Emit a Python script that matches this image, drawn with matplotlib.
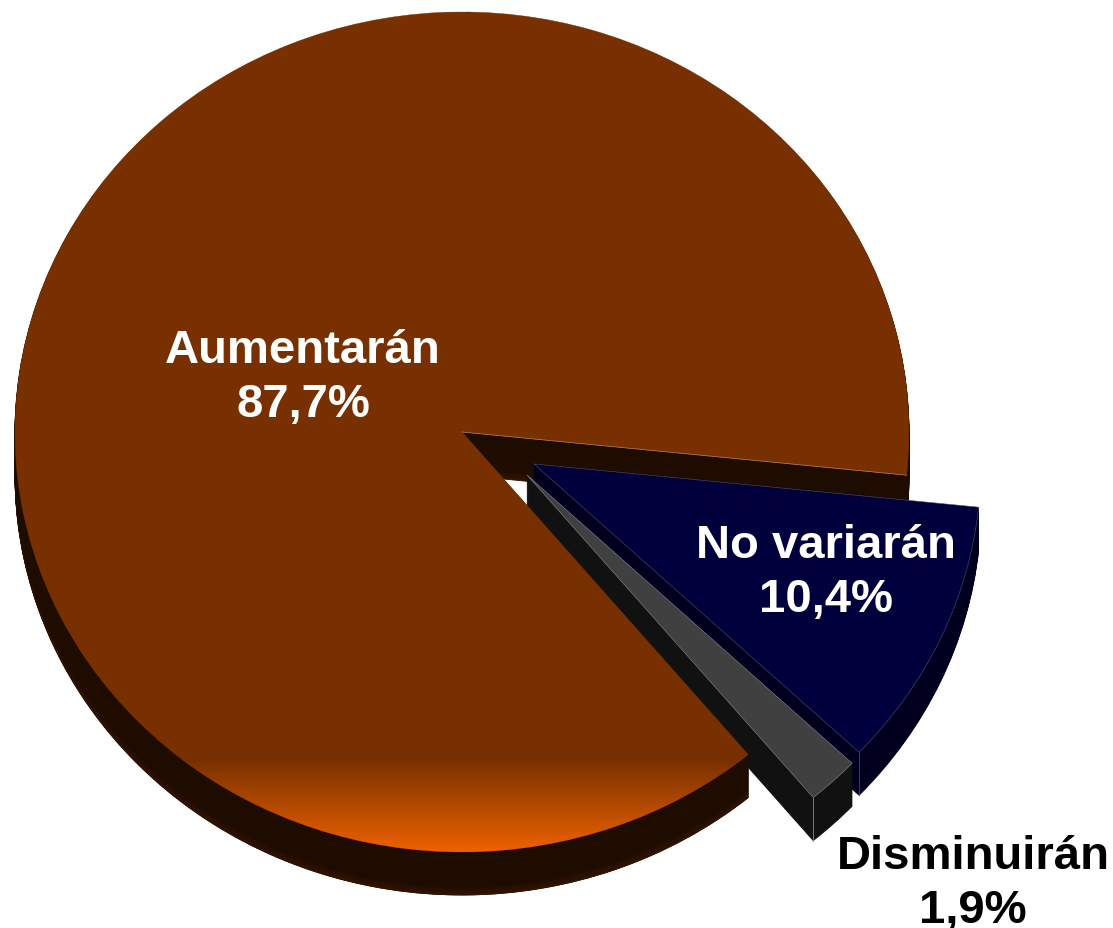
import numpy as np
import matplotlib
matplotlib.use("Agg")
import matplotlib.pyplot as plt
from matplotlib.patches import Wedge
from matplotlib.colors import to_rgb

# values, in drawing order (counterclockwise)
categories = ["Aumentarán", "Disminuirán", "No variarán"]
values = [87.7, 1.9, 10.4]

W, H = 1113, 929
cx, cy = 462, 433  # pie centre, pixels
rx, ry = 447, 420
depth = 43
start = -5.9

plt.rcParams["font.family"] = ["Liberation Sans", "DejaVu Sans"]

fig = plt.figure(figsize=(W / 100, H / 100), dpi=100)
ax = fig.add_axes([0, 0, 1, 1])
ax.set_xlim(-cx / rx, (W - cx) / rx)
ax.set_ylim((cy - H) / ry, cy / ry)
ax.axis("off")


def shifted(dx, dy):
    # pixel offset -> data offset
    return (dx / rx, -dy / ry)


# angles from the values
angles = {}
a = start
for name, v in zip(categories, values):
    angles[name] = (a, a + v * 3.6)
    a += v * 3.6

explode = {"Aumentarán": (0, 0), "Disminuirán": (65, 43), "No variarán": (72, 32)}


def wall(name, color, t1=None, t2=None, z=1, fade=None):
    a1, a2 = angles[name]
    if t1 is not None:
        a1, a2 = t1, t2
    ox, oy = explode[name]
    for s in range(depth, 0, -1):
        c = color
        if fade is not None and s > depth - 9:
            k = (s - (depth - 9)) / 9
            c = tuple(np.array(to_rgb(color)) * (1 - k) + np.array(to_rgb(fade)) * k)
        ax.add_patch(Wedge(shifted(ox, oy + s), 1, a1, a2, fc=c, ec=c, lw=0.6, zorder=z))


def corner_line(name, theta, color, z):
    ox, oy = explode[name]
    x0, y0 = shifted(ox, oy)
    x = x0 + np.cos(np.radians(theta))
    y = y0 + np.sin(np.radians(theta))
    ax.plot([x, x], [y, y - depth / ry], color=color, lw=0.6, zorder=z)


# main wedge, back walls
wall("Aumentarán", "#1e0c00", z=1, fade="#321400")

# blue wedge
wall("No variarán", "#00001e", z=2)
ax.add_patch(Wedge(shifted(*explode["No variarán"]), 1, *angles["No variarán"],
                   fc="#00003c", ec="#50506e", lw=0.4, zorder=3))
corner_line("No variarán", angles["No variarán"][0], "#45456a", 3)

# grey wedge
wall("Disminuirán", "#111111", z=4)
ax.add_patch(Wedge(shifted(*explode["Disminuirán"]), 1, *angles["Disminuirán"],
                   fc="#404040", ec="#8a8a8a", lw=0.4, zorder=5))
corner_line("Disminuirán", angles["Disminuirán"][0], "#8a8a8a", 5)

# front of the main wall goes over the grey wall
wall("Aumentarán", "#1e0c00", 180, angles["Aumentarán"][1], z=6, fade="#321400")

# main wedge top, with orange glow along the bottom
top = Wedge((0, 0), 1, *angles["Aumentarán"], fc="#783000", ec="#783000", lw=0.3, zorder=7)
ax.add_patch(top)
a0 = np.radians(start)
ax.plot([0, np.cos(a0)], [0, np.sin(a0)], color="#b08868", lw=0.5, zorder=7.5)
rows = np.linspace(0, 1, 256)
c1 = np.array(to_rgb("#783000"))
c2 = np.array(to_rgb("#ee6200"))
grad = (c1[None, :] * (1 - rows[:, None]) + c2[None, :] * rows[:, None])[:, None, :]
ylim = ax.get_ylim()
xlim = ax.get_xlim()
im = ax.imshow(grad, extent=(-1, 1, -1, (cy - 760) / ry), origin="upper",
               aspect="auto", zorder=8, interpolation="bilinear")
im.set_clip_path(Wedge((0, 0), 1, *angles["Aumentarán"], transform=ax.transData))
ax.set_xlim(xlim)
ax.set_ylim(ylim)


def pct(v):
    return f"{v:.1f}%".replace(".", ",")


label_pos = {"Aumentarán": (303, 378), "No variarán": (826, 573), "Disminuirán": (973, 884)}
label_col = {"Aumentarán": "white", "No variarán": "white", "Disminuirán": "black"}
for name, v in zip(categories, values):
    px, py = label_pos[name]
    x, y = shifted(px - cx, py - cy)
    ax.text(x, y, f"{name}\n{pct(v)}", color=label_col[name], fontsize=34, fontweight="bold",
            ha="center", va="center", linespacing=1.32, zorder=10)

fig.savefig("out.png", dpi=100)
